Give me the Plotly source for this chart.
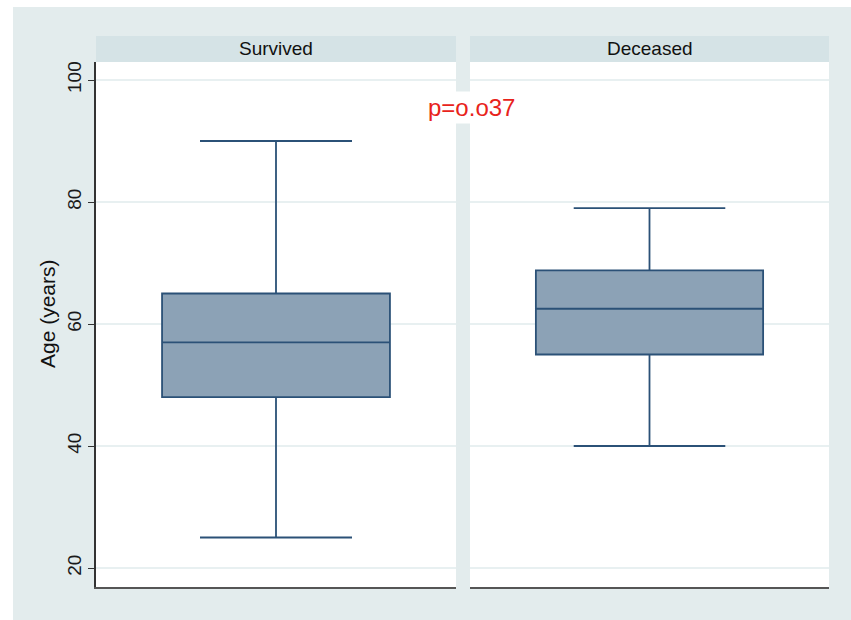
import plotly.graph_objects as go

# Box summary statistics (age in years) for each outcome group
groups = ["Survived", "Deceased"]
lower_whisker = [25, 40]
q1 = [48, 55]
median = [57, 62.5]
q3 = [65, 68.8]
upper_whisker = [90, 79]

y_ticks = [20, 40, 60, 80, 100]
p_label = "p=o.o37"
y_title = "Age (years)"

W, H = 851, 620
BG = "#e3eced"
STRIP = "#d5e3e6"
GRID = "#e8f0f1"
FILL = "#8ca2b6"
LINE = "#2b5177"
FONT = "Liberation Sans, Arial, Helvetica, sans-serif"


def px_x(p):
    return p / W


def px_y(p):
    return 1 - p / H


panels = [(96, 456), (470, 829)]
plot_top, plot_bottom = 62, 587
strip_top = 36

fig = go.Figure()

for i, g in enumerate(groups):
    xa = "x" if i == 0 else "x2"
    ya = "y" if i == 0 else "y2"
    fig.add_trace(go.Box(
        x=[g],
        q1=[q1[i]], median=[median[i]], q3=[q3[i]],
        lowerfence=[lower_whisker[i]], upperfence=[upper_whisker[i]],
        width=0.633, whiskerwidth=0.667,
        fillcolor=FILL, line=dict(color=LINE, width=1.8),
        boxpoints=False, showlegend=False, hoverinfo="skip",
        xaxis=xa, yaxis=ya,
    ))

y_range = [20 - (plot_bottom - 568) / 6.1, 100 + (80 - plot_top) / 6.1]
y_dom = [px_y(plot_bottom), px_y(plot_top)]

common_x = dict(showticklabels=False, ticks="", showgrid=False, zeroline=False,
                showline=True, linecolor="#555555", linewidth=2, mirror=False,
                type="category", range=[-0.5, 0.5], fixedrange=True)

layout = dict(
    width=W, height=H,
    margin=dict(l=0, r=0, t=0, b=0),
    paper_bgcolor=BG, plot_bgcolor="white",
    font=dict(family=FONT, color="#222222"),
    xaxis=dict(domain=[px_x(panels[0][0]), px_x(panels[0][1])], anchor="y", **common_x),
    xaxis2=dict(domain=[px_x(panels[1][0]), px_x(panels[1][1])], anchor="y2", **common_x),
    yaxis=dict(domain=y_dom, anchor="x", range=y_range, tickvals=y_ticks,
               ticks="outside", ticklen=6, tickwidth=1.2, tickcolor="#333333",
               tickangle=-90, tickfont=dict(size=19, color="#1a1a1a"),
               showline=True, linecolor="#333333", linewidth=1.5,
               showgrid=True, gridcolor=GRID, gridwidth=2, zeroline=False),
    yaxis2=dict(domain=y_dom, anchor="x2", range=y_range, tickvals=y_ticks,
                showticklabels=False, ticks="", showline=False,
                showgrid=True, gridcolor=GRID, gridwidth=2, zeroline=False),
    showlegend=False,
)
fig.update_layout(**layout)

shapes = [
    # white frame strips at top and left edge
    dict(type="rect", xref="paper", yref="paper", x0=0, x1=1, y0=px_y(7), y1=1,
         fillcolor="white", line=dict(width=0), layer="below"),
    dict(type="rect", xref="paper", yref="paper", x0=0, x1=px_x(13), y0=0, y1=1,
         fillcolor="white", line=dict(width=0), layer="below"),
]
annotations = []
for (x0, x1), g in zip(panels, groups):
    shapes.append(dict(type="rect", xref="paper", yref="paper",
                       x0=px_x(x0), x1=px_x(x1), y0=px_y(plot_top), y1=px_y(strip_top),
                       fillcolor=STRIP, line=dict(width=0), layer="below"))
    annotations.append(dict(text=g, xref="paper", yref="paper",
                            x=px_x((x0 + x1) / 2), y=px_y((strip_top + plot_top) / 2),
                            showarrow=False, xanchor="center", yanchor="middle",
                            font=dict(size=19, color="#111111", family=FONT)))

annotations.append(dict(text=y_title, xref="paper", yref="paper",
                        x=px_x(47), y=px_y(314), textangle=-90,
                        showarrow=False, xanchor="center", yanchor="middle",
                        font=dict(size=21, color="#111111", family=FONT)))
annotations.append(dict(text=p_label, xref="paper", yref="paper",
                        x=px_x(471), y=px_y(107), showarrow=False,
                        xanchor="center", yanchor="middle", bgcolor="white",
                        borderpad=2,
                        font=dict(size=24, color="#e8231b", family=FONT)))

fig.update_layout(shapes=shapes, annotations=annotations)

fig.write_html("out.html")
